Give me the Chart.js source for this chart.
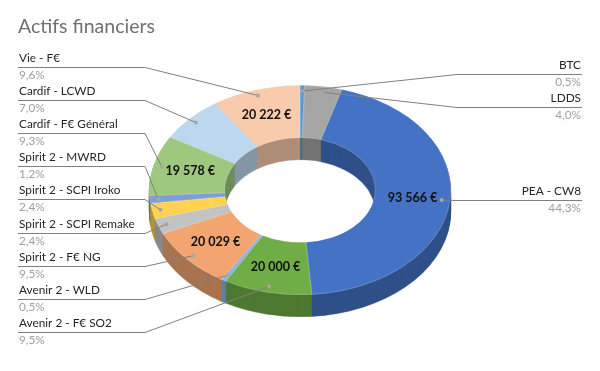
<!DOCTYPE html>
<html>
<head>
<meta charset="utf-8">
<script src="https://cdn.jsdelivr.net/npm/chart.js@4.4.1/dist/chart.umd.min.js"></script>
<style>
	html, body { margin: 0; padding: 0; background: #fff; }
	canvas { display: block; }
</style>
</head>
<body>
<canvas id="actifs" width="600" height="371"></canvas>
<script>
// slices, clockwise from 12 o'clock
var categories = ['BTC', 'LDDS', 'PEA - CW8', 'Avenir 2 - F€ SO2', 'Avenir 2 - WLD', 'Spirit 2 - F€ NG',
	'Spirit 2 - SCPI Remake', 'Spirit 2 - SCPI Iroko', 'Spirit 2 - MWRD', 'Cardif - F€ Général', 'Cardif - LCWD', 'Vie - F€']
var values = [1060, 8450, 93566, 20000, 1060, 20029, 5070, 5070, 2530, 19578, 14790, 20222]
var colors = ['#5B9BD5', '#A5A5A5', '#4472C4', '#70AD47', '#8CB6E2', '#F2A571',
	'#C3C3C3', '#FFD34F', '#7F9ED6', '#9DC87D', '#BDD7EE', '#F8CBAD']

var TILT = 0.695
var DEPTH = 22
var FONT = 'Lato, "Open Sans", sans-serif'

function shade(hex, f) {
	var n = parseInt(hex.slice(1), 16)
	var r = Math.round(((n >> 16) & 255) * f)
	var g = Math.round(((n >> 8) & 255) * f)
	var b = Math.round((n & 255) * f)
	return 'rgb(' + r + ',' + g + ',' + b + ')'
}

function euros(v) {
	return String(v).replace(/\B(?=(\d{3})+(?!\d))/g, ' ') + ' €'
}

var total = values.reduce(function(a, b) { return a + b }, 0)

function pct(v) {
	return (v / total * 100).toFixed(1).replace('.', ',') + '%'
}

function toScreen(cx, cy, x, y) {
	return { x: x, y: cy + (y - cy) * TILT }
}

var extrude = {
	id: 'extrude',
	beforeDatasetsDraw: function(chart) {
		var ctx = chart.ctx
		var meta = chart.getDatasetMeta(0)
		var cx = meta.data[0].x, cy = meta.data[0].y
		ctx.save()
		ctx.translate(cx, cy)
		ctx.scale(1, TILT)
		ctx.translate(-cx, -cy)
		for (var d = DEPTH; d > 0; d--) {
			ctx.save()
			ctx.translate(0, d / TILT)
			meta.data.forEach(function(arc, i) {
				var ghost = Object.create(arc)
				var wall = shade(colors[i], 0.7)
				ghost.options = Object.assign({}, arc.options, { backgroundColor: wall, borderColor: wall })
				ghost.draw(ctx)
			})
			ctx.restore()
		}
	},
	afterDatasetsDraw: function(chart) {
		var ctx = chart.ctx
		ctx.restore()
		var meta = chart.getDatasetMeta(0)
		var cx = meta.data[0].x, cy = meta.data[0].y

		// title
		ctx.save()
		ctx.fillStyle = '#707070'
		ctx.font = '19.5px ' + FONT
		ctx.textBaseline = 'alphabetic'
		ctx.textAlign = 'left'
		ctx.fillText('Actifs financiers', 18, 33)

		var left = [], right = []
		meta.data.forEach(function(arc, i) {
			var a = (arc.startAngle + arc.endAngle) / 2
			var r = arc.outerRadius * 0.945
			var dot = toScreen(cx, cy, cx + Math.cos(a) * r, cy + Math.sin(a) * r)
			var item = { i: i, a: a, dot: dot }
			if (Math.cos(a) < 0) left.push(item); else right.push(item)

			// value labels on the big slices
			if (values[i] >= 15000) {
				var tp = arc.tooltipPosition()
				var p = toScreen(cx, cy, tp.x, tp.y)
				ctx.fillStyle = '#111'
				ctx.font = 'bold 12.5px ' + FONT
				ctx.textAlign = 'center'
				ctx.textBaseline = 'middle'
				ctx.fillText(euros(values[i]), p.x, p.y)
			}
		})

		left.sort(function(a, b) { return b.a - a.a })
		right.sort(function(a, b) { return a.a - b.a })

		function drawLabel(item, lineY, side) {
			var x0 = side === 'left' ? 18 : 582
			var x1 = side === 'left' ? 145 : 457
			ctx.strokeStyle = '#808080'
			ctx.lineWidth = 1
			ctx.beginPath()
			ctx.moveTo(x0, Math.round(lineY) + 0.5)
			ctx.lineTo(x1, Math.round(lineY) + 0.5)
			ctx.lineTo(item.dot.x, item.dot.y)
			ctx.stroke()
			ctx.fillStyle = '#A6A6A6'
			ctx.beginPath()
			ctx.arc(item.dot.x, item.dot.y, 2, 0, Math.PI * 2)
			ctx.fill()

			ctx.textAlign = side === 'left' ? 'left' : 'right'
			ctx.textBaseline = 'alphabetic'
			var tx = side === 'left' ? 19 : 581
			ctx.fillStyle = '#262626'
			ctx.font = '11.8px ' + FONT
			ctx.fillText(categories[item.i], tx, lineY - 5)
			ctx.fillStyle = '#A0A0A0'
			ctx.fillText(pct(values[item.i]), tx, lineY + 12)
		}

		left.forEach(function(item, k) {
			drawLabel(item, 67 + 33.1 * k, 'left')
		})
		right.forEach(function(item, k) {
			var y = k < 2 ? 74 + 33 * k : item.dot.y
			drawLabel(item, y, 'right')
		})
		ctx.restore()
	}
}

var chart = new Chart(document.getElementById('actifs').getContext('2d'), {
	type: 'doughnut',
	data: {
		labels: categories,
		datasets: [{
			data: values,
			backgroundColor: colors,
			borderColor: 'rgba(255,255,255,0.45)',
			borderWidth: 0.6,
			clip: false
		}]
	},
	options: {
		responsive: false,
		animation: false,
		cutout: '50%',
		rotation: 0,
		layout: { padding: { left: 149, right: 149, top: 39, bottom: 30 } },
		plugins: {
			legend: { display: false },
			tooltip: { enabled: false }
		}
	},
	plugins: [extrude]
})
</script>
</body>
</html>
